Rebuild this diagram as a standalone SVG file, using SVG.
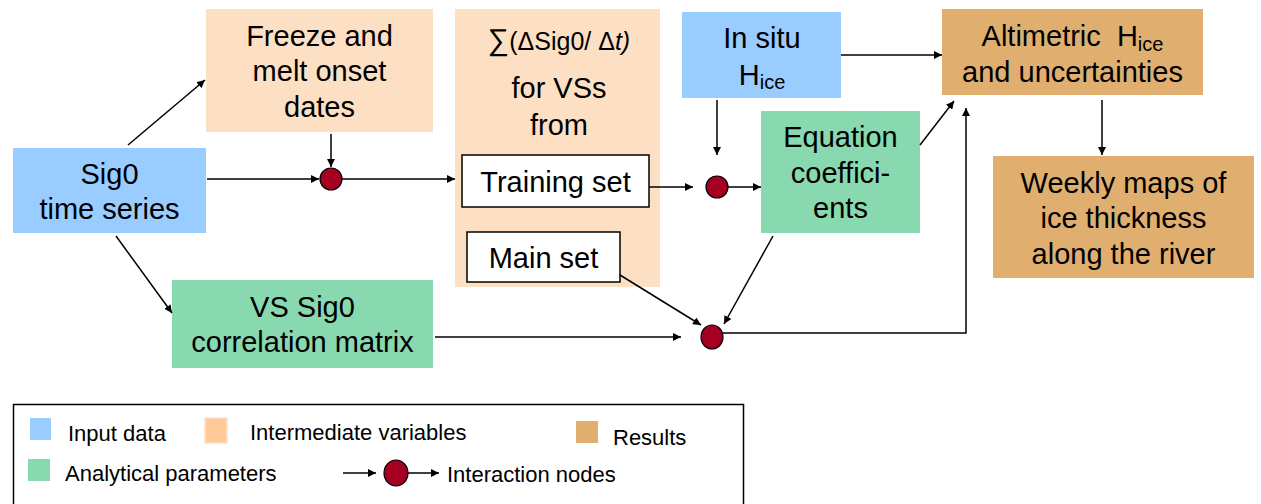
<svg xmlns="http://www.w3.org/2000/svg" width="1261" height="504" viewBox="0 0 1261 504">
<defs>
<style>
text{font-family:"Liberation Sans",Arial,sans-serif;fill:#000}
.t{font-size:29px;text-anchor:middle}
.lg{font-size:22px}
.input{fill:#99CCFF}
.inter{fill:#FDE0C4}
.anal{fill:#88D9AF}
.res{fill:#E0AF70}
.sub{fill:#fff;stroke:#000;stroke-width:1.5}
.node{fill:#A50021;stroke:#000;stroke-width:1.2}
.c{stroke:#000;stroke-width:1.5;fill:none;marker-end:url(#ah)}
</style>
<marker id="ah" viewBox="0 0 10 10" refX="10" refY="5" markerWidth="8" markerHeight="8" markerUnits="userSpaceOnUse" orient="auto"><path d="M0,0 L10,5 L0,10 z" fill="#000"/></marker>
</defs>
<rect width="1261" height="504" fill="#fff"/>

<g id="sig0">
<rect class="input" x="13" y="148" width="193" height="85"/>
<text class="t" x="109.5" y="184">Sig0</text>
<text class="t" x="109.5" y="219">time series</text>
</g>

<g id="freeze">
<rect class="inter" x="206" y="9" width="227" height="123"/>
<text class="t" x="319.5" y="46">Freeze and</text>
<text class="t" x="319.5" y="81">melt onset</text>
<text class="t" x="319.5" y="117">dates</text>
</g>

<g id="dsig">
<rect class="inter" x="455" y="9" width="205" height="278"/>
<text x="559" y="50" style="font-size:25px;text-anchor:middle"><tspan style="font-size:30px">∑</tspan>(ΔSig0/ Δ<tspan font-style="italic">t)</tspan></text>
<text class="t" x="559" y="98">for VSs</text>
<text class="t" x="559" y="135">from</text>
</g>

<g id="training">
<rect class="sub" x="462" y="155" width="187" height="52"/>
<text class="t" x="555.5" y="192">Training set</text>
</g>

<g id="main">
<rect class="sub" x="467" y="232" width="153" height="50"/>
<text class="t" x="543.5" y="268">Main set</text>
</g>

<g id="insitu">
<rect class="input" x="682" y="12" width="159" height="86"/>
<text class="t" x="762" y="48">In situ</text>
<text class="t" x="762" y="85">H<tspan style="font-size:20px" dy="4">ice</tspan></text>
</g>

<g id="equation">
<rect class="anal" x="761" y="111" width="159" height="122"/>
<text class="t" x="840.5" y="147">Equation</text>
<text class="t" x="840.5" y="183">coeffici-</text>
<text class="t" x="840.5" y="218">ents</text>
</g>

<g id="altimetric">
<rect class="res" x="942" y="9" width="261" height="86"/>
<text class="t" x="1072.5" y="46">Altimetric&#160; H<tspan style="font-size:20px" dy="5">ice</tspan></text>
<text class="t" x="1072.5" y="82">and uncertainties</text>
</g>

<g id="weekly">
<rect class="res" x="993" y="156" width="261" height="122"/>
<text class="t" x="1123.5" y="193">Weekly maps of</text>
<text class="t" x="1123.5" y="228">ice thickness</text>
<text class="t" x="1123.5" y="264">along the river</text>
</g>

<g id="vscorr">
<rect class="anal" x="172" y="280" width="261" height="88"/>
<text class="t" x="302.5" y="317">VS Sig0</text>
<text class="t" x="302.5" y="352">correlation matrix</text>
</g>

<g id="nodes">
<circle id="n1" class="node" cx="331" cy="179" r="11"/>
<circle id="n2" class="node" cx="717" cy="187" r="11"/>
<ellipse id="n3" class="node" cx="712" cy="337" rx="11" ry="12"/>
</g>

<g id="connectors">
<line class="c" x1="128" y1="145" x2="205" y2="80"/>
<line class="c" x1="207" y1="179" x2="319" y2="179"/>
<line class="c" x1="331" y1="134" x2="331" y2="167"/>
<line class="c" x1="342" y1="179" x2="455" y2="179"/>
<line class="c" x1="649" y1="187" x2="693" y2="187"/>
<line class="c" x1="717" y1="100" x2="717" y2="155"/>
<line class="c" x1="728" y1="187" x2="761" y2="187"/>
<line class="c" x1="841" y1="55" x2="942" y2="55"/>
<line class="c" x1="920" y1="145" x2="954" y2="101"/>
<polyline class="c" points="723,333 966,333 966,108"/>
<line class="c" x1="1102" y1="100" x2="1102" y2="155"/>
<line class="c" x1="116" y1="236" x2="172" y2="313"/>
<line class="c" x1="435" y1="337" x2="681" y2="337"/>
<line class="c" x1="620" y1="275" x2="701" y2="325"/>
<line class="c" x1="773" y1="236" x2="724" y2="324"/>
</g>

<g id="legend">
<rect x="13.5" y="404.5" width="730" height="110" fill="#fff" stroke="#000" stroke-width="1.5"/>
<rect class="input" x="30" y="418" width="21" height="22"/>
<text class="lg" x="68" y="441">Input data</text>
<rect x="205" y="418" width="22" height="25" fill="#FFC999" stroke="#FFE0C8" stroke-width="1.5"/>
<text class="lg" x="250" y="440">Intermediate variables</text>
<rect class="res" x="576" y="421" width="22" height="22"/>
<text class="lg" x="613" y="445">Results</text>
<rect class="anal" x="28" y="459" width="22" height="22"/>
<text class="lg" x="65" y="481">Analytical parameters</text>
<line class="c" x1="343" y1="473" x2="376" y2="473"/>
<ellipse class="node" cx="396" cy="473" rx="12" ry="13"/>
<line class="c" x1="408" y1="473" x2="439" y2="473"/>
<text class="lg" x="447" y="482">Interaction nodes</text>
</g>
</svg>
